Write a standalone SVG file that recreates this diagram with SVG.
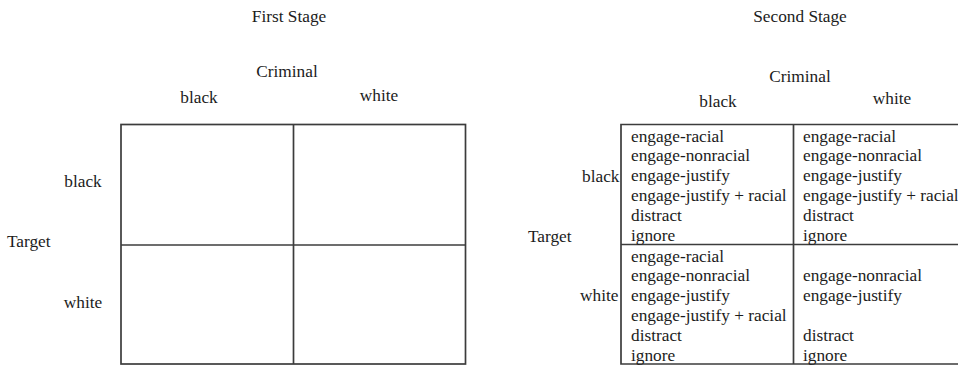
<svg xmlns="http://www.w3.org/2000/svg" width="958" height="366" viewBox="0 0 958 366">
<style>
text{font-family:"Liberation Serif","Times New Roman",serif;font-size:17.3px;fill:#1c1c1c}
.c{text-anchor:middle}
.r{text-anchor:end}
.g{stroke:#3c3c3c;stroke-width:1.7;fill:none}
</style>
<rect width="958" height="366" fill="#fff"/>
<g id="first-stage">
<text class="c" x="289" y="21.5">First Stage</text>
<text class="c" x="287" y="77">Criminal</text>
<text class="c" x="199" y="103">black</text>
<text class="c" x="379" y="100.5">white</text>
<text class="c" x="83" y="187">black</text>
<text x="7" y="247">Target</text>
<text class="c" x="83" y="308">white</text>
</g>
<g id="first-grid">
<rect class="g" x="121" y="124.5" width="344.5" height="239.5"/>
<line class="g" x1="293.5" y1="124.5" x2="293.5" y2="364"/>
<line class="g" x1="121" y1="245" x2="465.5" y2="245"/>
</g>
<g id="second-stage">
<text class="c" x="800" y="21.5">Second Stage</text>
<text class="c" x="800" y="82">Criminal</text>
<text class="c" x="718" y="106.5">black</text>
<text class="c" x="892" y="103.5">white</text>
<text class="r" x="619.5" y="181.5">black</text>
<text x="528" y="241.5">Target</text>
<text class="r" x="618.5" y="300.5">white</text>
</g>
<g id="second-grid">
<path class="g" d="M958 124.5H621V364H958M793.5 124.5V364M621 244.5H958"/>
</g>
<g id="cell-bb">
<text x="631" y="141.5">engage-racial</text>
<text x="631" y="161.3">engage-nonracial</text>
<text x="631" y="181.1">engage-justify</text>
<text x="631" y="200.9">engage-justify + racial</text>
<text x="631" y="220.7">distract</text>
<text x="631" y="240.5">ignore</text>
</g>
<g id="cell-bw">
<text x="803" y="141.5">engage-racial</text>
<text x="803" y="161.3">engage-nonracial</text>
<text x="803" y="181.1">engage-justify</text>
<text x="803" y="200.9">engage-justify + racial</text>
<text x="803" y="220.7">distract</text>
<text x="803" y="240.5">ignore</text>
</g>
<g id="cell-wb">
<text x="631" y="261.5">engage-racial</text>
<text x="631" y="281.3">engage-nonracial</text>
<text x="631" y="301.1">engage-justify</text>
<text x="631" y="320.9">engage-justify + racial</text>
<text x="631" y="340.7">distract</text>
<text x="631" y="360.5">ignore</text>
</g>
<g id="cell-ww">
<text x="803" y="281.3">engage-nonracial</text>
<text x="803" y="301.1">engage-justify</text>
<text x="803" y="340.7">distract</text>
<text x="803" y="360.5">ignore</text>
</g>
</svg>
